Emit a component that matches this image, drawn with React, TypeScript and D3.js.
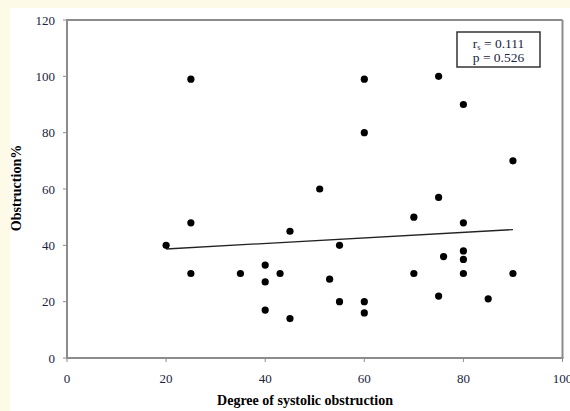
import React from "react";
import * as d3 from "d3";

const xValues = [20, 25, 25, 51, 45, 55, 35, 40, 40, 43, 53, 55, 40, 45, 90, 75, 70, 80, 80, 76, 80, 70, 80, 90, 75, 85, 60, 60, 25, 60, 75, 80, 60];
const yValues = [40, 48, 30, 60, 45, 40, 30, 33, 27, 30, 28, 20, 17, 14, 70, 57, 50, 48, 38, 36, 35, 30, 30, 30, 22, 21, 20, 16, 99, 99, 100, 90, 80];
const trendX = [20, 90];
const trendY = [38.7, 45.6];
const xTicks = [0, 20, 40, 60, 80, 100];
const yTicks = [0, 20, 40, 60, 80, 100, 120];

const W = 570, H = 411;
const left = 67, right = 562.5, top = 20, bottom = 358;

export default function App() {
  const x = d3.scaleLinear().domain([0, 100]).range([left, right]);
  const y = d3.scaleLinear().domain([0, 120]).range([bottom, top]);
  const font = "'Liberation Serif', 'Times New Roman', serif";
  const axisGray = "#8c8c8c";
  return (
    <svg width={W} height={H} style={{ position: "absolute", left: 0, top: 0 }}>
      <rect x={0} y={0} width={W} height={H} fill="#fefae8" />
      <rect x={10} y={8} width={W - 10} height={H - 8} fill="#ffffff" />
      {/* frame */}
      <line x1={left} y1={top} x2={right} y2={top} stroke={axisGray} strokeWidth={2} />
      <line x1={right} y1={top} x2={right} y2={bottom} stroke={axisGray} strokeWidth={2} />
      <line x1={left} y1={top - 1} x2={left} y2={bottom + 1} stroke={axisGray} strokeWidth={2} />
      <line x1={left - 1} y1={bottom} x2={right + 1} y2={bottom} stroke={axisGray} strokeWidth={2} />
      {yTicks.map((t) => (
        <g key={"y" + t}>
          <line x1={left - 4} x2={left} y1={y(t)} y2={y(t)} stroke={axisGray} strokeWidth={1} />
          <text x={left - 12} y={y(t)} dy="0.35em" textAnchor="end" fontFamily={font} fontSize={13} fill="#1a2440">{t}</text>
        </g>
      ))}
      {xTicks.map((t) => (
        <g key={"x" + t}>
          <line x1={x(t)} x2={x(t)} y1={bottom} y2={bottom + 4} stroke={axisGray} strokeWidth={1} />
          <text x={x(t)} y={bottom + 25} textAnchor="middle" fontFamily={font} fontSize={13} fill="#1a2440">{t}</text>
        </g>
      ))}
      <line x1={x(trendX[0])} y1={y(trendY[0])} x2={x(trendX[1])} y2={y(trendY[1])} stroke="#222" strokeWidth={1.3} />
      {xValues.map((v, i) => (
        <circle key={i} cx={x(v)} cy={y(yValues[i])} r={3.6} fill="#000" />
      ))}
      <rect x={457} y={32} width={83} height={35} fill="#fff" stroke="#333" strokeWidth={1.5} />
      <text x={498.5} y={47.5} textAnchor="middle" fontFamily={font} fontSize={13.5} fill="#1a2440">
        r<tspan fontSize={8.5} dy={2}>s</tspan><tspan dy={-2}> = 0.111</tspan>
      </text>
      <text x={498.5} y={62} textAnchor="middle" fontFamily={font} fontSize={13.5} fill="#1a2440">p = 0.526</text>
      <text transform={`translate(21,188) rotate(-90)`} textAnchor="middle" fontFamily={font} fontSize={14} fontWeight="bold" fill="#000">Obstruction%</text>
      <text x={305} y={405} textAnchor="middle" fontFamily={font} fontSize={14} fontWeight="bold" fill="#000">Degree of systolic  obstruction</text>
    </svg>
  );
}
